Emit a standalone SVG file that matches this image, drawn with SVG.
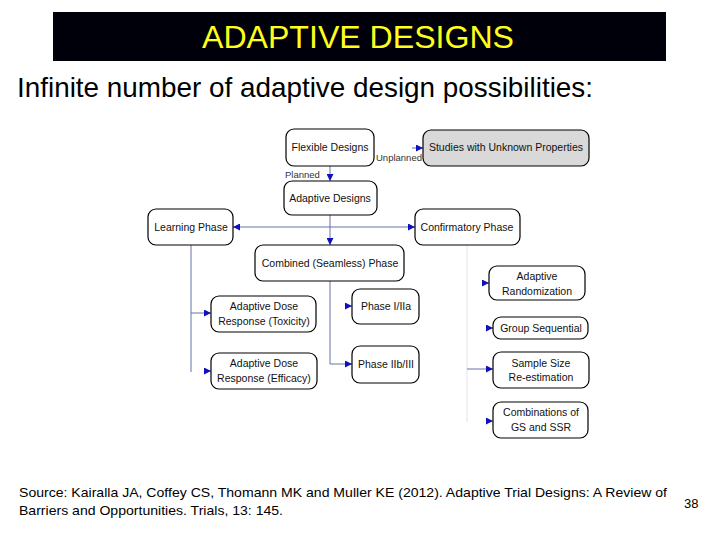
<svg xmlns="http://www.w3.org/2000/svg" width="720" height="540" viewBox="0 0 720 540">
<defs>
<style>
.n rect{fill:#fff;stroke:#000;stroke-width:1.2}
.n text{font-family:"Liberation Sans",Arial,sans-serif;font-size:10.5px;fill:#111;text-anchor:middle}
.c line,.c polyline{stroke:#6670a8;stroke-width:1;fill:none}
.lbl{font-family:"Liberation Sans",Arial,sans-serif;font-size:9.5px;fill:#333}
</style>
<marker id="ah" viewBox="0 0 10 10" refX="10" refY="5" markerWidth="7" markerHeight="7" markerUnits="userSpaceOnUse" orient="auto"><path d="M0,0 L10,5 L0,10 z" fill="#1010c0"/></marker>
</defs>
<rect width="720" height="540" fill="#fff"/>
<rect x="53" y="12" width="613" height="49" fill="#00000a"/>
<text x="358" y="48" font-family="Liberation Sans,Arial,sans-serif" font-size="32" fill="#ffff1a" text-anchor="middle" textLength="312" lengthAdjust="spacingAndGlyphs">ADAPTIVE DESIGNS</text>
<text x="17" y="97" font-family="Liberation Sans,Arial,sans-serif" font-size="28" fill="#000" textLength="576" lengthAdjust="spacingAndGlyphs">Infinite number of adaptive design possibilities:</text>

<g class="c">
<line x1="330" y1="166" x2="330" y2="181" marker-end="url(#ah)"/>
<line x1="412" y1="148" x2="423" y2="148" stroke="none" marker-end="url(#ah)"/>
<line x1="330" y1="227" x2="233" y2="227" marker-end="url(#ah)"/>
<line x1="330" y1="227" x2="415" y2="227" marker-end="url(#ah)"/>
<line x1="330" y1="215" x2="330" y2="245" marker-end="url(#ah)"/>
<line x1="191" y1="245" x2="191" y2="372"/>
<line x1="191" y1="313" x2="211" y2="313" marker-end="url(#ah)"/>
<line x1="204" y1="371" x2="211" y2="371" stroke="none" marker-end="url(#ah)"/>
<polyline points="330,281 330,364 352,364" marker-end="url(#ah)"/>
<line x1="345" y1="306" x2="352" y2="306" stroke="none" marker-end="url(#ah)"/>
<line x1="467" y1="245" x2="467" y2="422" style="stroke:#e4e4e8"/>
<line x1="482" y1="283" x2="489" y2="283" stroke="none" marker-end="url(#ah)"/>
<line x1="486" y1="328" x2="493" y2="328" stroke="none" marker-end="url(#ah)"/>
<line x1="467" y1="369" x2="493" y2="369" marker-end="url(#ah)"/>
<line x1="486" y1="421" x2="493" y2="421" stroke="none" marker-end="url(#ah)"/>
</g>
<text class="lbl" x="376" y="161">Unplanned</text>
<text class="lbl" x="285" y="178">Planned</text>

<g id="flexible" class="n"><rect x="286" y="129" width="88" height="37" rx="8"/><text x="330" y="151">Flexible Designs</text></g>
<g id="unknown" class="n"><rect x="423" y="130" width="166" height="36" rx="8" style="fill:#d9d9d9"/><text x="506" y="151">Studies with Unknown Properties</text></g>
<g id="adaptive" class="n"><rect x="284" y="181" width="93" height="34" rx="8"/><text x="330" y="202">Adaptive Designs</text></g>
<g id="learning" class="n"><rect x="148" y="209" width="85" height="36" rx="8"/><text x="191" y="231">Learning Phase</text></g>
<g id="confirmatory" class="n"><rect x="415" y="209" width="105" height="36" rx="8"/><text x="467" y="231">Confirmatory Phase</text></g>
<g id="combined" class="n"><rect x="255" y="245" width="149" height="36" rx="8"/><text x="330" y="267">Combined (Seamless) Phase</text></g>
<g id="toxicity" class="n"><rect x="211" y="296" width="105" height="36" rx="8"/><text x="264" y="310">Adaptive Dose</text><text x="264" y="325">Response (Toxicity)</text></g>
<g id="efficacy" class="n"><rect x="211" y="353" width="106" height="36" rx="8"/><text x="264" y="367">Adaptive Dose</text><text x="264" y="382">Response (Efficacy)</text></g>
<g id="phase12" class="n"><rect x="352" y="289" width="67" height="35" rx="8"/><text x="386" y="310">Phase I/IIa</text></g>
<g id="phase23" class="n"><rect x="352" y="346" width="67" height="37" rx="8"/><text x="386" y="368">Phase IIb/III</text></g>
<g id="randomization" class="n"><rect x="489" y="266" width="96" height="34" rx="8"/><text x="537" y="280">Adaptive</text><text x="537" y="295">Randomization</text></g>
<g id="groupseq" class="n"><rect x="493" y="317" width="95" height="22" rx="8"/><text x="541" y="332">Group Sequential</text></g>
<g id="ssr" class="n"><rect x="493" y="352" width="96" height="36" rx="8"/><text x="541" y="367">Sample Size</text><text x="541" y="381">Re-estimation</text></g>
<g id="combos" class="n"><rect x="493" y="402" width="95" height="36" rx="8"/><text x="541" y="416">Combinations of</text><text x="541" y="431">GS and SSR</text></g>

<text x="19" y="497" font-family="Liberation Sans,Arial,sans-serif" font-size="13" fill="#000" textLength="648" lengthAdjust="spacingAndGlyphs">Source: Kairalla JA, Coffey CS, Thomann MK and Muller KE (2012). Adaptive Trial Designs: A Review of</text>
<text x="19" y="515" font-family="Liberation Sans,Arial,sans-serif" font-size="13" fill="#000" textLength="264" lengthAdjust="spacingAndGlyphs">Barriers and Opportunities. Trials, 13: 145.</text>
<text x="684" y="508" font-family="Liberation Sans,Arial,sans-serif" font-size="13" fill="#000">38</text>
</svg>
